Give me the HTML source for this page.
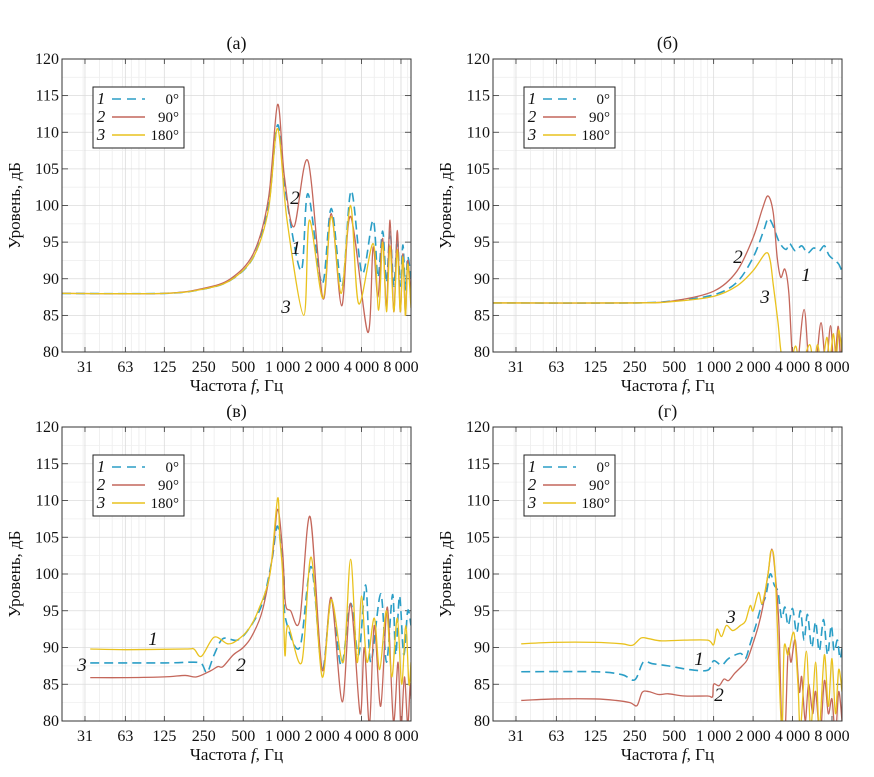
<!DOCTYPE html>
<html><head><meta charset="utf-8"><style>
html,body{margin:0;padding:0;background:#fff;}
svg{display:block;font-family:"Liberation Serif",serif;}
svg text{font-family:"Liberation Serif",serif;}
</style></head><body>
<svg id="chart" width="874" height="777" viewBox="0 0 874 777" font-family="Liberation Serif, serif"></svg>
<script>
// ---- data: frequency tick labels, level ticks ----
const xTickFreqs = [31, 63, 125, 250, 500, 1000, 2000, 4000, 8000];
const xTickLabels = ["31", "63", "125", "250", "500", "1\u2009000", "2\u2009000", "4\u2009000", "8\u2009000"];
const yTicks = [80, 85, 90, 95, 100, 105, 110, 115, 120];
const seriesNames = ["0°", "90°", "180°"];

// Panel (а)
const aBlue = [[20.7,88],[125,88],[250,88.6],[400,89.8],[600,93],[780,100],[915,111],[1050,102],[1380,91.1],[1560,101.6],[2000,89.3],[2350,99.6],[2840,89],[3330,102],[4040,90.7],[4900,98],[5330,90.2],[5800,96.5],[6200,89.5],[6600,96.6],[7050,89],[7500,95.5],[7900,89],[8280,94.6],[8650,88.5],[9000,93],[9540,90]];
const aRed = [[20.7,88],[125,88],[250,88.7],[400,90],[600,93.5],[780,101],[915,113.8],[1030,104],[1220,97.1],[1560,106.1],[2030,87.3],[2350,98.9],[2820,86.3],[3300,98.5],[4460,82.7],[4900,94.3],[5330,87.5],[5800,95.5],[6200,86],[6600,98],[7050,85.5],[7500,96.6],[7900,85.5],[8280,93.4],[8650,85],[9000,92.5],[9540,87]];
const aYellow = [[20.7,88],[125,88],[250,88.6],[400,89.8],[600,93],[780,99.5],[915,110.5],[1080,98],[1450,85],[1600,98],[2030,87.3],[2350,98.5],[2800,88],[3300,100],[3800,86.6],[4900,94.8],[5400,85.7],[5800,95],[6200,85.5],[6600,94.5],[7050,85.5],[7500,94],[7900,85.5],[8280,93],[8650,85],[9000,92],[9540,86]];

// Panel (б)
const bBlue = [[20.7,86.7],[250,86.7],[500,87],[1000,87.8],[1500,89.5],[2000,92.9],[2400,96.5],[2600,98.2],[2800,97.5],[3170,95],[3560,94],[3800,94.8],[4200,93.8],[4700,94.5],[5200,93.5],[5800,94.2],[6400,93.8],[7000,94.5],[7600,93.2],[8400,92.5],[9000,92],[9540,91]];
const bRed = [[20.7,86.7],[250,86.7],[500,87],[1000,88.3],[1500,91],[2000,95.6],[2350,99.5],[2600,101.3],[2850,99],[3050,93],[3250,90.2],[3500,91.3],[3750,88],[4000,79],[4300,77],[4900,85.8],[5400,77],[6000,78],[6600,84],[7200,78],[7800,83.6],[8300,78],[8900,83.5],[9300,79],[9540,82]];
const bYellow = [[20.7,86.7],[250,86.7],[500,86.9],[1000,87.6],[1500,89],[2000,91.1],[2500,93.5],[2700,92.5],[2850,89.2],[3100,84],[3300,79.5],[3700,77],[4200,80.8],[4600,78],[5400,81],[5800,78],[6200,81],[6700,78],[7300,82],[7700,79],[8200,82.5],[8600,79],[9000,83],[9540,80]];

// Panel (в)
const cBlue = [[34,87.9],[125,87.9],[200,88],[240,87.8],[265,86.6],[300,89],[350,91.2],[450,91],[550,92.5],[700,96],[830,102],[915,106.5],[1020,100],[1050,94],[1350,90],[1650,101],[2000,87],[2350,96.5],[2800,87.5],[3300,96],[3800,89],[4300,98.5],[4700,88],[5600,97.3],[6200,88],[6900,97.2],[7300,89],[7800,97],[8400,89],[9000,95],[9540,93]];
const cRed = [[34,85.9],[63,85.9],[125,86],[180,86.2],[220,86],[280,86.8],[320,87.4],[350,87.4],[420,89],[500,90],[580,91.5],[700,95],[830,102],[915,108.8],[1000,103],[1050,96],[1150,95],[1350,93.7],[1620,107.8],[2000,87],[2350,96.8],[2850,82.6],[3300,96],[3900,81],[4200,90],[4600,79.5],[5000,93],[5600,82],[6300,95.5],[7000,80],[7600,88],[8000,79],[8500,86],[9000,79.5],[9400,85],[9540,83]];
const cYellow = [[34,89.8],[63,89.7],[180,89.8],[210,89.8],[240,88.8],[300,91.4],[380,90.5],[450,91],[550,92.5],[650,95],[800,100],[915,110.3],[950,105],[1000,100],[1040,89],[1100,93],[1400,88],[1650,102.3],[2000,86],[2350,96.5],[2900,88],[3300,102],[3700,88],[4000,97],[4400,88],[5000,94],[5500,87],[6200,95],[6800,86],[7500,94],[8100,85],[8700,93],[9200,85],[9540,88]];

// Panel (г)
const dBlue = [[34,86.7],[125,86.7],[200,86.3],[250,85.6],[290,88],[340,87.8],[450,87.5],[650,87],[900,86.9],[1000,88.2],[1150,87.6],[1300,88.5],[1600,89.2],[1750,88.5],[1900,90.5],[2100,93],[2300,95.5],[2500,97],[2700,100],[2900,98.5],[3100,97.5],[3300,94],[3500,95.5],[3700,93],[4000,95.3],[4300,92],[4600,95],[4900,91],[5200,94.5],[5600,90],[6000,93.5],[6400,89.5],[6900,93.8],[7400,89],[7900,93],[8300,89.5],[8800,91],[9200,88.5],[9540,90]];
const dRed = [[34,82.8],[63,83],[125,83],[180,82.8],[230,82.5],[260,82.1],[285,83.9],[320,84],[380,83.6],[450,83.7],[600,83.4],[900,83.4],[980,83.3],[1000,85],[1100,84.8],[1200,85.7],[1300,85.5],[1450,86.5],[1650,87.5],[1800,88.3],[1950,90],[2200,93],[2400,96],[2600,100],[2780,103.4],[2950,100],[3150,93],[3300,80],[3500,78],[3700,89.5],[3900,88],[4200,91],[4500,84],[4700,86],[5000,80],[5300,85],[5700,81],[6000,84],[6500,78],[7000,85.5],[7500,81],[8000,83],[8500,78],[9000,84],[9540,80]];
const dYellow = [[34,90.5],[60,90.7],[125,90.7],[200,90.5],[240,90.3],[280,91.3],[320,91.2],[400,90.9],[600,91],[900,91],[1000,90.4],[1060,92.5],[1150,91.5],[1250,93],[1400,92.3],[1600,93],[1750,93.6],[1900,95.7],[2000,95],[2200,97.5],[2350,96],[2600,100],[2750,103.2],[2950,100],[3300,79],[3450,90],[3700,89],[4100,92],[4400,85],[4600,79],[5100,89.5],[5500,79],[6000,88],[6400,79],[7000,89],[7500,82],[8000,88.5],[8500,81],[9000,87],[9540,84]];

// ---- layout (not data) ----
const panels = [
  {id:"a", title:"(а)", L:62, R:411, T:59, B:352, series:[aBlue,aRed,aYellow],
   labels:[["2",295,198],["1",296,248],["3",286,307]]},
  {id:"b", title:"(б)", L:493, R:842, T:59, B:352, series:[bBlue,bRed,bYellow],
   labels:[["2",738,257],["1",806,275],["3",765,297]]},
  {id:"c", title:"(в)", L:62, R:411, T:427, B:721, series:[cBlue,cRed,cYellow],
   labels:[["1",153,639],["3",82,665],["2",241,665]]},
  {id:"d", title:"(г)", L:493, R:842, T:427, B:721, series:[dBlue,dRed,dYellow],
   labels:[["3",731,617],["1",699,659],["2",719,695]]}
];
const colors = ["#2b9ec6", "#c4675b", "#e9c21e"];
const FMIN = 20.7, FMAX = 9540, YMIN = 80, YMAX = 120;
const NS = "http://www.w3.org/2000/svg";
const FONT = "Liberation Serif, serif";
const svg = document.getElementById("chart");

function mk(tag, attrs, parent) {
  const e = document.createElementNS(NS, tag);
  for (const k in attrs) e.setAttribute(k, attrs[k]);
  if (tag === "text") e.setAttribute("font-family", FONT);
  (parent || svg).appendChild(e);
  return e;
}
function xScale(p, f) { return p.L + (Math.log(f/FMIN)/Math.log(FMAX/FMIN)) * (p.R - p.L); }
function yScale(p, v) { return p.B - (v - YMIN)/(YMAX - YMIN) * (p.B - p.T); }

function pathFor(p, data) {
  const pts = data.map(d => [xScale(p, d[0]), yScale(p, d[1])]);
  let s = "M" + pts[0][0].toFixed(2) + "," + pts[0][1].toFixed(2);
  for (let i = 0; i < pts.length - 1; i++) {
    const p0 = pts[Math.max(0, i-1)], p1 = pts[i], p2 = pts[i+1], p3 = pts[Math.min(pts.length-1, i+2)];
    const t = 0.16;
    const c1 = [p1[0] + (p2[0]-p0[0])*t, p1[1] + (p2[1]-p0[1])*t];
    const c2 = [p2[0] - (p3[0]-p1[0])*t, p2[1] - (p3[1]-p1[1])*t];
    s += "C" + c1[0].toFixed(2) + "," + c1[1].toFixed(2) + " " + c2[0].toFixed(2) + "," + c2[1].toFixed(2) + " " + p2[0].toFixed(2) + "," + p2[1].toFixed(2);
  }
  return s;
}

panels.forEach(p => {
  const g = mk("g", {});
  
  
  const cx = (p.L + p.R) / 2;
  const minors = [];
  for (let dec = 10; dec <= 1000; dec *= 10) for (let m = 2; m <= 9; m++) minors.push(dec*m);
  minors.forEach(f => {
    if (f <= FMIN || f >= FMAX) return;
    const x = xScale(p, f);
    const l = mk("line", {x1:x, x2:x, y1:p.T, y2:p.B, stroke:"#ececec", "stroke-width":0.8}, g);
    
    
  });
  for (let v = YMIN; v <= YMAX; v += 2.5) {
    const y = yScale(p, v);
    const l = mk("line", {x1:p.L, x2:p.R, y1:y, y2:y, stroke: (v % 5 === 0) ? "#dcdcdc" : "#efefef", "stroke-width":0.8}, g);
    
    
  }
  xTickFreqs.forEach((f, i) => {
    const x = xScale(p, f);
    const l = mk("line", {x1:x, x2:x, y1:p.T, y2:p.B, stroke:"#dcdcdc", "stroke-width":0.8}, g);
    
    
    mk("line", {x1:x, x2:x, y1:p.B, y2:p.B-5, stroke:"#333", "stroke-width":0.8}, g);
    mk("line", {x1:x, x2:x, y1:p.T, y2:p.T+5, stroke:"#333", "stroke-width":0.8}, g);
    const t = mk("text", {x:x, y:p.B+20, "text-anchor":"middle", "font-size":16, fill:"#111"}, g);
    
    
    t.textContent = xTickLabels[i];
  });
  yTicks.forEach(v => {
    const y = yScale(p, v);
    mk("line", {x1:p.L, x2:p.L+6, y1:y, y2:y, stroke:"#333", "stroke-width":0.8}, g);
    mk("line", {x1:p.R-6, x2:p.R, y1:y, y2:y, stroke:"#333", "stroke-width":0.8}, g);
    const t = mk("text", {x:p.L-3, y:y+5, "text-anchor":"end", "font-size":16, fill:"#111"}, g);
    
    
    t.textContent = v;
  });
  const cp = mk("clipPath", {id:"clip-" + p.id}, g);
  mk("rect", {x:p.L, y:p.T, width:p.R-p.L, height:p.B-p.T}, cp);
  const names = ["series-0deg", "series-90deg", "series-180deg"];
  p.series.forEach((data, si) => {
    const path = mk("path", {d:pathFor(p, data), fill:"none", stroke:colors[si], "stroke-width": si === 0 ? 1.6 : 1.3,
      "stroke-dasharray": si === 0 ? "9,5" : "none", "clip-path":"url(#clip-" + p.id + ")", "stroke-linejoin":"round"}, g);
    
    
  });
  const fr = mk("rect", {x:p.L, y:p.T, width:p.R-p.L, height:p.B-p.T, fill:"none", stroke:"#333", "stroke-width":1}, g);
  
  
  const tt = mk("text", {x:cx, y:p.T-10, "text-anchor":"middle", "font-size":18, fill:"#111"}, g);
  
  
  tt.textContent = p.title;
  const xt = mk("text", {x:cx, y:p.B+39, "text-anchor":"middle", "font-size":17, fill:"#111"}, g);
  
  
  xt.innerHTML = 'Частота <tspan font-style="italic">f</tspan>, Гц';
  const yx = p.L - 42, yy = (p.T + p.B) / 2;
  const yt = mk("text", {x:yx, y:yy, "text-anchor":"middle", "font-size":17, fill:"#111", transform:"rotate(-90 " + yx + " " + yy + ")"}, g);
  
  
  yt.textContent = "Уровень, дБ";
  const lx = p.L + 31, ly = p.T + 28;
  const lg = mk("g", {}, g);
  
  
  mk("rect", {x:lx, y:ly, width:91, height:61, fill:"#fff", stroke:"#222", "stroke-width":1}, lg);
  seriesNames.forEach((nm, si) => {
    const ry = ly + 12 + si * 18;
    const e = mk("g", {}, lg);
    
    
    const n = mk("text", {x:lx+8, y:ry+5, "font-size":17, "font-style":"italic", fill:"#111", "text-anchor":"middle"}, e);
    n.textContent = String(si + 1);
    mk("line", {x1:lx+19, x2:lx+52, y1:ry, y2:ry, stroke:colors[si], "stroke-width":1.6, "stroke-dasharray": si === 0 ? "9,6" : "none"}, e);
    const t = mk("text", {x:lx+86, y:ry+5, "font-size":15, fill:"#111", "text-anchor":"end"}, e);
    t.textContent = nm;
  });
  p.labels.forEach(l => {
    const t = mk("text", {x:l[1], y:l[2]+6, "font-size":19, "font-style":"italic", fill:"#111", "text-anchor":"middle"}, g);
    
    
    t.textContent = l[0];
  });
});
</script>
</body></html>
